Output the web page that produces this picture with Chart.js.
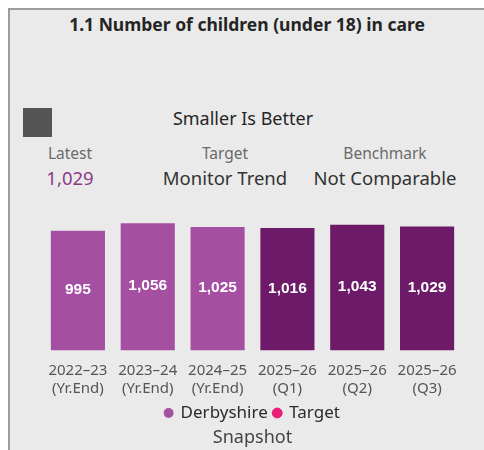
<!DOCTYPE html>
<html>
<head>
<meta charset="utf-8">
<script src="https://cdn.jsdelivr.net/npm/chart.js@4.4.1/dist/chart.umd.min.js"></script>
<style>
  html, body { margin: 0; padding: 0; background: #fff; overflow: hidden; }
  body { width: 484px; height: 450px; position: relative; font-family: "Noto Sans", "Open Sans", sans-serif; }
  #panel {
    position: absolute; left: 8px; top: 8px; width: 500px; height: 460px;
    background: #eaeaea; border-left: 2px solid #9c9c9c; border-top: 2px solid #9c9c9c;
  }
  .txt { position: absolute; white-space: nowrap; transform: translate(-50%, -50%); }
  #title { left: 247px; top: 24px; font-weight: bold; font-size: 17.5px; color: #252525; }
  #flag { position: absolute; left: 23px; top: 108px; width: 29px; height: 29px; background: #555; }
  #polarity { left: 243px; top: 118px; font-size: 18px; color: #252525; }
  .cap { font-size: 15.5px; color: #6a6a6a; top: 153px; }
  .val { font-size: 18.5px; color: #333; top: 177px; }
  #latest { color: #8b3a8b; }
  #wrap { position: absolute; left: 0; top: 0; width: 484px; height: 450px; }
</style>
</head>
<body>
<div id="panel"></div>
<div id="title" class="txt">1.1 Number of children (under 18) in care</div>
<div id="flag"></div>
<div id="polarity" class="txt">Smaller Is Better</div>
<div class="txt cap" style="left:70px">Latest</div>
<div id="latest" class="txt val" style="left:70px">1,029</div>
<div class="txt cap" style="left:225px">Target</div>
<div class="txt val" style="left:225px">Monitor Trend</div>
<div class="txt cap" style="left:385px">Benchmark</div>
<div class="txt val" style="left:385px">Not Comparable</div>
<div id="wrap"><canvas id="chart" width="484" height="450"></canvas></div>
<script>
// periods shown as two-line labels
const periods = [
  ["2022–23", "(Yr.End)"],
  ["2023–24", "(Yr.End)"],
  ["2024–25", "(Yr.End)"],
  ["2025–26", "(Q1)"],
  ["2025–26", "(Q2)"],
  ["2025–26", "(Q3)"]
];
const derbyshire = [995, 1056, 1025, 1016, 1043, 1029];
const target = [null, null, null, null, null, null];

const yearEndColor = "#a54fa3";
const quarterColor = "#6d1b68";
const barColors = periods.map(p => p[1] === "(Yr.End)" ? yearEndColor : quarterColor);

// white value labels centred in each bar
const barLabels = {
  id: "barLabels",
  afterDatasetsDraw(chart) {
    const ctx = chart.ctx;
    const meta = chart.getDatasetMeta(0);
    ctx.save();
    ctx.fillStyle = "#ffffff";
    ctx.font = "bold 15.5px 'Liberation Sans', Arial, sans-serif";
    ctx.textAlign = "center";
    ctx.textBaseline = "middle";
    meta.data.forEach((bar, i) => {
      const mid = (bar.y + bar.base) / 2;
      ctx.fillText(derbyshire[i].toLocaleString("en-GB"), bar.x, mid - 1);
    });
    ctx.restore();
  }
};

new Chart(document.getElementById("chart"), {
  type: "bar",
  data: {
    labels: periods,
    datasets: [
      {
        label: "Derbyshire",
        data: derbyshire,
        backgroundColor: barColors,
        categoryPercentage: 1,
        barPercentage: 0.775
      },
      {
        type: "line",
        label: "Target",
        data: target,
        borderColor: "#e91e78",
        backgroundColor: "#e91e78",
        pointRadius: 0
      }
    ]
  },
  options: {
    responsive: false,
    animation: false,
    layout: { padding: { top: 218, left: 43, right: 22, bottom: 5 } },
    plugins: {
      legend: {
        position: "bottom",
        labels: {
          usePointStyle: true,
          pointStyle: "circle",
          boxWidth: 7,
          boxHeight: 7,
          padding: 6,
          color: "#2b2b2b",
          font: { family: "'Noto Sans', sans-serif", size: 17 }
        }
      },
      title: {
        display: true,
        position: "bottom",
        text: "Snapshot",
        color: "#444",
        padding: { top: 0, bottom: 0 },
        font: { family: "'Noto Sans', sans-serif", size: 18, weight: "normal", lineHeight: 0.75 }
      },
      tooltip: { enabled: false }
    },
    scales: {
      x: {
        grid: { display: false, drawTicks: false },
        border: { display: false },
        // keep the label band tight: padding plus two text lines
        afterFit(scale) { scale.height = 48; },
        ticks: {
          padding: 11,
          color: "#555",
          maxRotation: 0,
          autoSkip: false,
          font: { family: "'Noto Sans', sans-serif", size: 15, lineHeight: 1.2 }
        }
      },
      y: {
        display: false,
        min: 0,
        max: 1100
      }
    }
  },
  plugins: [barLabels]
});
</script>
</body>
</html>
